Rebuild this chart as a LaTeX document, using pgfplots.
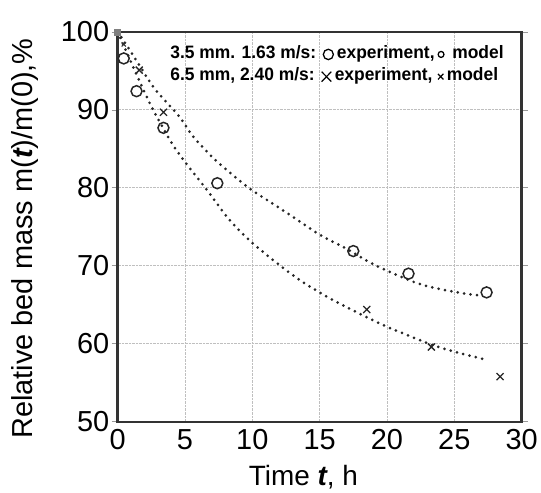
\documentclass[border=0pt]{standalone}
\usepackage{pgfplots}
\pgfplotsset{compat=1.18}
\usepackage{fontspec}
\setmainfont{Liberation Sans}

\newcommand{\symO}[1]{\tikz[baseline=-4pt]\draw[black, line width=1.3pt] (0,0) circle (#1);}
\newcommand{\symX}[1]{\tikz[baseline=-4pt]\draw[black, line width=1.2pt] (-#1,-#1) -- (#1,#1) (-#1,#1) -- (#1,-#1);}

\pgfplotstableread{
t m
0.0 100
1.0 97.4
2.5 93.3
3.3 91.6
4.6 89.1
5.6 86.6
7.0 84.0
8.3 82.0
9.9 79.8
11.5 78.0
13.0 76.3
15.0 74.0
17.0 72.2
19.0 70.2
21.6 68.2
23.0 67.4
24.6 66.8
26.0 66.4
27.0 66.2
}\modelA

\pgfplotstableread{
t m
0.0 100
1.0 96.1
2.4 90.8
4.0 85.8
5.1 83.1
6.6 79.8
8.3 75.9
9.9 73.1
11.8 70.4
13.5 68.2
14.8 66.8
16.0 65.6
18.4 63.5
20.0 62.2
21.7 61.0
23.3 59.9
25.0 59.0
27.5 57.9
}\modelB

\begin{document}
\begin{tikzpicture}
\begin{axis}[
  scale only axis,
  width=405pt, height=391pt,
  xmin=0, xmax=30, ymin=50, ymax=100,
  xtick={0,5,...,30}, ytick={50,60,...,100},
  grid=major,
  major grid style={black!25, densely dotted, line width=0.9pt},
  axis line style={black!80, line width=2.4pt},
  xtick style={draw=none},
  ytick style={black!40, line width=0.8pt},
  tick align=outside, major tick length=6pt,
  clip=false,
  /pgf/number format/assume math mode=true,
  tick label style={font=\fontsize{29}{30}\selectfont},
  xticklabel style={yshift=2pt},
  yticklabel style={xshift=1pt},
  xlabel={Time {\bfseries\itshape t}, h},
  ylabel={Relative bed mass m({\bfseries\itshape t})/m(0),\%},
  xlabel style={font=\fontsize{28}{30}\selectfont, at={(axis description cs:0.46,0)}, anchor=base, yshift=-64pt},
  ylabel style={font=\fontsize{29}{30}\selectfont, at={(axis description cs:-0.23,0.47)}, anchor=center},
]
\addplot[black!85, line width=3pt, line cap=round, dash pattern=on 0pt off 6.5pt, smooth] table[x=t, y=m] {\modelA};
\addplot[black!85, line width=3pt, line cap=round, dash pattern=on 0pt off 6.5pt, smooth] table[x=t, y=m] {\modelB};
% experiment, 3.5 mm
\addplot[only marks, mark=o, mark size=5.5pt, mark options={black!85, line width=1.5pt}] coordinates {
(0.45,96.6) (1.4,92.4) (3.4,87.7) (7.4,80.6) (17.5,71.9) (21.6,69.0) (27.4,66.6)};
% experiment, 6.5 mm
\addplot[only marks, mark=x, mark size=5pt, mark options={black!85, line width=1.3pt}] coordinates {
(1.6,95.1) (3.4,89.7) (18.5,64.4) (23.3,59.6) (28.4,55.8)};
% model markers at start
\addplot[only marks, mark=x, mark size=3pt, mark options={black!80, line width=1pt}] coordinates {(0.45,98.4)};
\addplot[only marks, mark=square*, mark size=3pt, mark options={black!50}] coordinates {(0,100)};
\draw[black!80, line width=2.4pt] (rel axis cs:0,0) rectangle (rel axis cs:1,1);
\coordinate (legA) at (axis cs:3.9,96.6);
\coordinate (legB) at (axis cs:3.9,93.75);
\end{axis}
\node[anchor=base west, font=\fontsize{18}{22}\selectfont\bfseries, inner sep=0pt]
  at (legA) {\scalebox{0.97}[1]{3.5 mm. 1.63 m/s: \symO{5.2pt}\,experiment,\,\symO{3pt}\, model}};
\node[anchor=base west, font=\fontsize{18}{22}\selectfont\bfseries, inner sep=0pt]
  at (legB) {\scalebox{0.97}[1]{6.5 mm, 2.40 m/s: \symX{5pt}\,experiment, \symX{2.8pt}\,model}};
\path (current axis.south west) ++(-118pt,-70pt) rectangle ++(541pt,493pt);
\end{tikzpicture}
\end{document}
